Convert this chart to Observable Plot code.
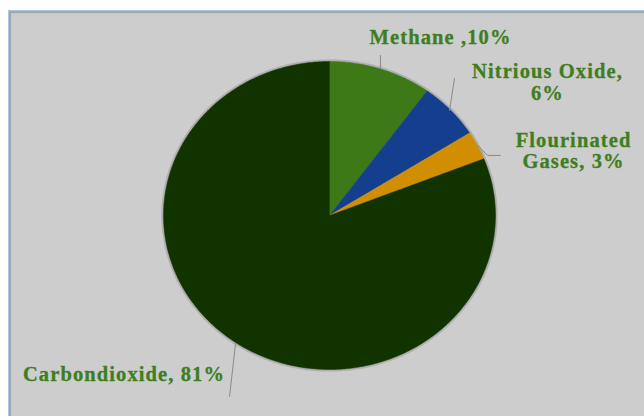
<!DOCTYPE html>
<html>
<head>
<meta charset="utf-8">
<script src="https://cdn.jsdelivr.net/npm/d3@7"></script>
<script src="https://cdn.jsdelivr.net/npm/@observablehq/plot@0.6"></script>
<style>
  html, body { margin: 0; padding: 0; background: #ffffff; }
  #wrap { position: relative; width: 644px; height: 416px; overflow: hidden; background: #ffffff; }
  #frame { position: absolute; left: 8px; top: 10px; right: 0; bottom: 0;
           background: #cdcdcd; border-top: 1px solid #a9c8ea; border-left: 1px solid #a9c8ea;
           box-shadow: inset 2px 2px 1px #a4a4a4; }
  #chart { position: absolute; left: 0; top: 0; }
</style>
</head>
<body>
<div id="wrap"><div id="frame"></div><div id="chart"></div></div>
<script>
// ---- data ----
const gases = ["Methane", "Nitrious Oxide", "Flourinated Gases", "Carbondioxide"];
const shares = [10, 6, 3, 81];
const labelTexts = ["Methane ,10%", "Nitrious Oxide,\n6%", "Flourinated\nGases, 3%", "Carbondioxide, 81%"];
const sliceColors = ["#3d7a17", "#133f8e", "#d18e00", "#113300"];

// ---- layout (data units of the unit-circle scales) ----
const labelX = [0.669, 1.313, 1.470, -1.238];
const labelY = [1.162, 0.867, 0.422, -1.032];
const leaderPts = [
  [[0.307, 1.039], [0.307, 0.955]],
  [[0.753, 0.890], [0.723, 0.682]],
  [[0.892, 0.455], [0.952, 0.390], [1.030, 0.390]],
  [[-0.566, -0.831], [-0.602, -1.175]]
];

// ---- pie geometry from the shares ----
const arcs = d3.pie().sort(null).value(d => d)(shares);
const slicePolys = arcs.map((a, i) => {
  const pts = [{x: 0, y: 0}];
  const n = Math.max(8, Math.ceil((a.endAngle - a.startAngle) / 0.01));
  for (let k = 0; k <= n; k++) {
    const t = a.startAngle + (a.endAngle - a.startAngle) * k / n;
    pts.push({x: Math.sin(t), y: Math.cos(t)});
  }
  pts.push({x: 0, y: 0});
  return pts;
});
const rim = d3.range(0, 2 * Math.PI + 0.01, 0.01).map(t => ({x: Math.sin(t) * 1.004, y: Math.cos(t) * 1.004}));

const labels = gases.map((g, i) => ({name: g, text: labelTexts[i], x: labelX[i], y: labelY[i]}));

const marks = [
  Plot.line(rim, {x: "x", y: "y", stroke: "#444", strokeWidth: 3, strokeOpacity: 0.22, curve: "linear"}),
  ...slicePolys.map((pts, i) => Plot.line(pts, {x: "x", y: "y", fill: sliceColors[i], stroke: sliceColors[i], strokeWidth: 0.5, curve: "linear"})),
  ...leaderPts.map(pts => Plot.line(pts.map(([x, y]) => ({x, y})), {x: "x", y: "y", stroke: "#8a8a8a", strokeWidth: 1})),
  Plot.text(labels, {x: "x", y: "y", text: "text", fill: "#3e7e1e", fontSize: 20.5, fontWeight: "bold",
    fontFamily: "Liberation Serif, Times New Roman, serif", textAnchor: "middle", lineAnchor: "middle", lineHeight: 1.06,
    stroke: "#3e7e1e", strokeWidth: 0.3})
];

const chart = Plot.plot({
  width: 644,
  height: 416,
  margin: 0,
  x: {type: "linear", domain: [-1, 1], range: [163, 495], axis: null},
  y: {type: "linear", domain: [-1, 1], range: [369, 61], axis: null},
  style: {background: "transparent", letterSpacing: "1.1px", overflow: "visible"},
  marks
});
document.getElementById("chart").appendChild(chart);
</script>
</body>
</html>
